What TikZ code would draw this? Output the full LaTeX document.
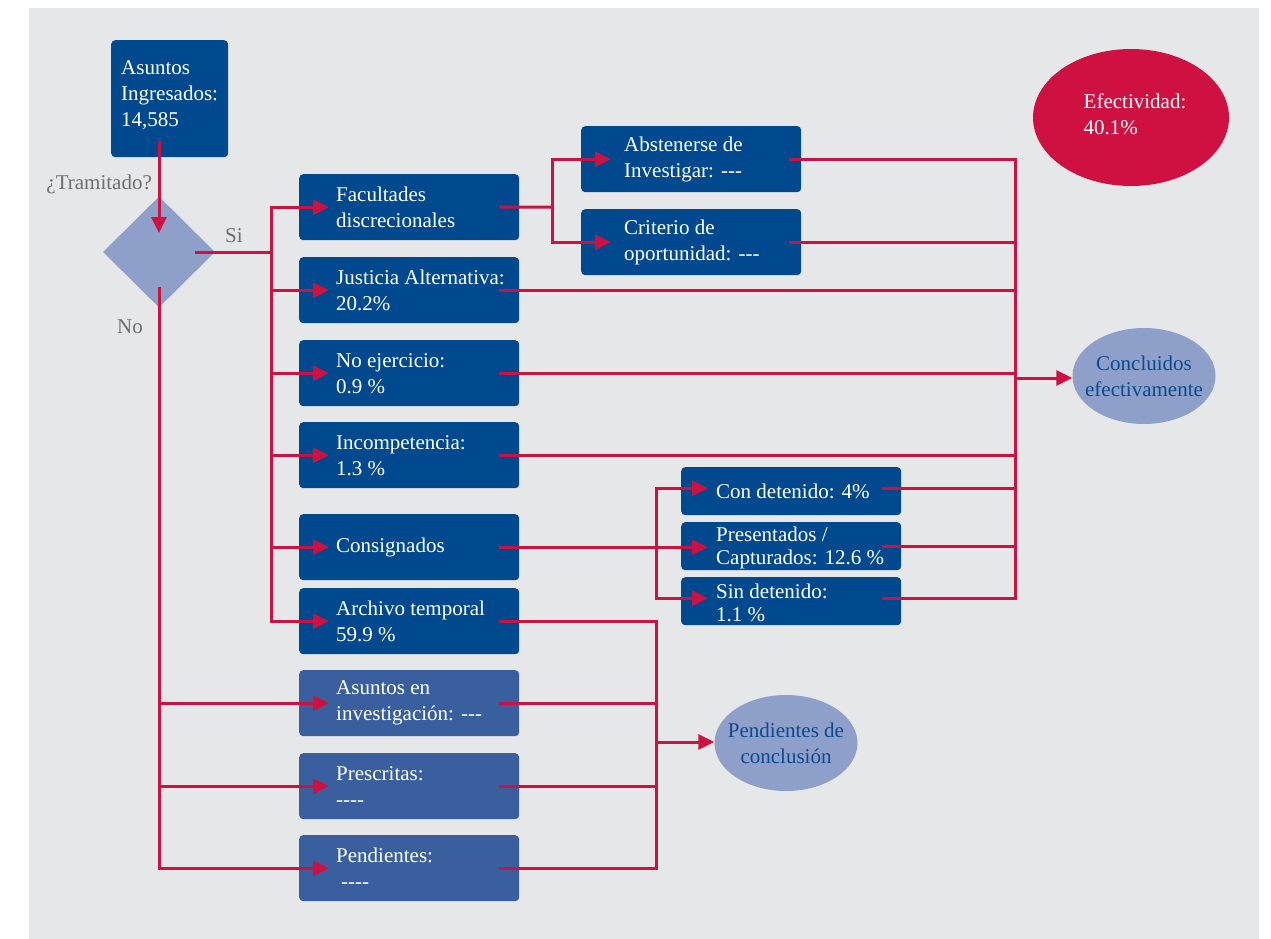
\documentclass[tikz,border=0pt]{standalone}
\usepackage{fontspec}
\setmainfont{Liberation Serif}
\usetikzlibrary{shapes.geometric,arrows.meta}
\definecolor{bgc}{HTML}{E6E7E9}
\definecolor{dblue}{HTML}{00498F}
\definecolor{lblue}{HTML}{3A5F9F}
\definecolor{lav}{HTML}{8E9FC9}
\definecolor{rline}{HTML}{CF1142}
\definecolor{gtxt}{HTML}{6D6E71}
\definecolor{etxt}{HTML}{0B4A92}
\newcommand{\hy}{-\kern0pt}
\begin{document}
\begin{tikzpicture}[x=1pt,y=-1pt,
  dbox/.style={fill=dblue,rounded corners=4pt,draw=none,inner sep=0pt,anchor=north west},
  lbox/.style={dbox,fill=lblue},
  mainbox/.style={dbox,minimum width=220pt,minimum height=66pt},
  mainlbox/.style={lbox,minimum width=220pt,minimum height=66pt},
  smallbox/.style={dbox,minimum width=220pt,minimum height=48pt},
  txt/.style={text=white,align=left,anchor=west,inner sep=0pt,font=\fontsize{21}{26}\selectfont},
  stxt/.style={txt,font=\fontsize{21}{23}\selectfont},
  gray label/.style={text=gtxt,inner sep=0pt,font=\fontsize{21}{26}\selectfont},
  ell/.style={ellipse,fill=lav,inner sep=0pt},
  etext/.style={inner sep=0pt,text=etxt,align=center,font=\fontsize{21}{26}\selectfont},
  ln/.style={draw=rline,line width=3pt},
  arr/.style={ln,-{Triangle[length=16pt,width=15pt]}}]
\useasboundingbox (0,0) rectangle (1271,939);
\fill[white] (0,0) rectangle (1271,939);
\fill[bgc] (29,8) rectangle (1259,939);

% start box and decision
\node[dbox,minimum width=117pt,minimum height=117pt] (asu) at (111,40) {};
\node[txt] (asu-t) at ([xshift=10pt,yshift=4pt]asu.west) {Asuntos\\Ingresados:\\14,585};
\node[diamond,fill=lav,minimum width=112pt,minimum height=111pt,inner sep=0pt,aspect=1] (dia) at (159,252) {};
\node[gray label,anchor=east] (tram) at (152,184) {¿Tramitado?};
\node[gray label] (si) at (234,236) {Si};
\node[gray label] (no) at (130,327) {No};

% main column
\node[mainbox] (fac) at (299,174) {};
\node[txt] at ([xshift=37pt]fac.west) {Facultades\\discrecionales};
\node[mainbox] (jus) at (299,257) {};
\node[txt] at ([xshift=37pt]jus.west) {Justicia Alternativa:\\20.2\%};
\node[mainbox] (noe) at (299,340) {};
\node[txt] at ([xshift=37pt]noe.west) {No ejercicio:\\0.9 \%};
\node[mainbox] (inc) at (299,422) {};
\node[txt] at ([xshift=37pt]inc.west) {Incompetencia:\\1.3 \%};
\node[mainbox] (cons) at (299,514) {};
\node[txt] at ([xshift=37pt]cons.west) {Consignados};
\node[mainbox] (arc) at (299,588) {};
\node[txt] at ([xshift=37pt]arc.west) {Archivo temporal\\59.9 \%};
\node[mainlbox] (inv) at (299,670) {};
\node[txt] at ([xshift=37pt]inv.west) {Asuntos en\\investigación: \hy\hy-};
\node[mainlbox] (pres) at (299,753) {};
\node[txt] at ([xshift=37pt]pres.west) {Prescritas:\\\hy\hy\hy-};
\node[mainlbox] (pen) at (299,835) {};
\node[txt] at ([xshift=37pt]pen.west) {Pendientes:\\\hspace*{5pt}\hy\hy\hy-};

% second level
\node[mainbox] (abs) at (581,126) {};
\node[txt] at ([xshift=43pt]abs.west) {Abstenerse de\\Investigar: \hy\hy-};
\node[mainbox] (cri) at (581,209) {};
\node[txt] at ([xshift=43pt]cri.west) {Criterio de\\oportunidad: \hy\hy-};
\node[smallbox] (cdet) at (681,467) {};
\node[stxt] at ([xshift=35pt]cdet.west) {Con detenido: 4\%};
\node[smallbox] (prc) at (681,522) {};
\node[stxt] at ([xshift=35pt,yshift=-2pt]prc.west) {Presentados /\\Capturados: 12.6 \%};
\node[smallbox] (sdet) at (681,577) {};
\node[stxt] at ([xshift=35pt,yshift=-2pt]sdet.west) {Sin detenido:\\1.1 \%};

% ellipses
\node[ell,fill=rline,minimum width=196pt,minimum height=137pt] (efe) at (1131,117.5) {};
\node[etext,text=white,align=left] (efe-t) at ([xshift=4pt,yshift=3pt]efe.center) {Efectividad:\\40.1\%};
\node[ell,minimum width=143pt,minimum height=96pt] (conc) at (1144,376) {};
\node[etext] (conc-t) at (conc.center) {Concluidos\\efectivamente};
\node[ell,minimum width=143pt,minimum height=96pt] (pdc) at (786,743) {};
\node[etext] (pdc-t) at (pdc.center) {Pendientes de\\conclusión};

% connector junctions
\coordinate (a1) at (asu.south -| dia.center);
\coordinate (sibus) at (271,252);
\coordinate (fk) at (552,207);
\coordinate (cbus) at (1015,378);
\coordinate (prt) at ([xshift=27pt]prc.west);
\coordinate (cg) at (656,547);
\coordinate (pk) at (656,742);

% decision
\draw[arr] ([yshift=16pt]a1) -- ([yshift=19pt]dia.center);
\draw[ln] ([xshift=36pt]dia.center) -- (sibus);
\foreach \b in {fac,jus,noe,inc,cons,arc}
  \draw[arr] (sibus) |- ([xshift=30pt]\b.west);
\foreach \b in {inv,pres,pen}
  \draw[arr] ([yshift=-35pt]dia.center) |- ([xshift=30pt]\b.west);

% facultades branch
\draw[ln] ([xshift=-20pt]fac.east) -- (fk);
\draw[arr] (fk) |- ([xshift=30pt]abs.west);
\draw[arr] (fk) |- ([xshift=30pt]cri.west);

% to concluidos
\draw[ln] ([xshift=-12pt]abs.east) -| (cbus);
\draw[ln] ([xshift=-12pt]cri.east) -| (cbus);
\foreach \b in {jus,noe,inc}
  \draw[ln] ([xshift=-20pt]\b.east) -| (cbus);
\draw[ln] ([xshift=-19pt,yshift=3pt]cdet.east) -| (cbus);
\draw[ln] ([xshift=-19pt]prc.east) -| (cbus);
\draw[ln] ([xshift=-19pt,yshift=3pt]sdet.east) -| (cbus);
\draw[arr] (cbus) -- (cbus -| conc.west);

% consignados branch
\draw[arr] ([xshift=-20pt]cons.east) -- (prt |- cons.east);
\draw[arr] (cg) |- ([xshift=27pt,yshift=3pt]cdet.west);
\draw[arr] (cg) |- ([xshift=27pt,yshift=3pt]sdet.west);

% to pendientes de conclusion
\foreach \b in {arc,inv,pres,pen}
  \draw[ln] ([xshift=-20pt]\b.east) -| (pk);
\draw[arr] (pk) -- (pk -| pdc.west);
\end{tikzpicture}
\end{document}
